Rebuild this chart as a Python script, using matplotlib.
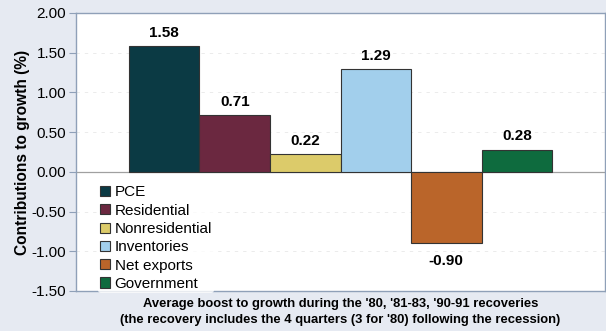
import matplotlib.pyplot as plt
import numpy as np

plt.rcParams['font.family'] = ['Liberation Sans', 'DejaVu Sans']

# data
categories = ['PCE', 'Residential', 'Nonresidential', 'Inventories', 'Net exports', 'Government']
values = [1.58, 0.71, 0.22, 1.29, -0.90, 0.28]
colors = ['#0B3A44', '#6B2840', '#DCCB6A', '#A2CFEC', '#BA652A', '#0E6B3E']
yticks = [2.0, 1.5, 1.0, 0.5, 0.0, -0.5, -1.0, -1.5]

bg = '#E6EAF2'
edge = '#8FA0B8'

fig = plt.figure(figsize=(6.06, 3.31), dpi=100, facecolor=bg)
ax = fig.add_axes([76/606, 1 - 291/331, (605-76)/606, (291-13)/331])
ax.set_facecolor('white')

x = np.arange(len(categories))
bars = ax.bar(x, values, width=1.0, color=colors, edgecolor='#333333', linewidth=0.8,
              label=categories, zorder=3)

for xi, v in zip(x, values):
    if v >= 0:
        ax.text(xi, v + 0.08, f'{v:.2f}', ha='center', va='bottom', fontsize=11,
                fontweight='bold', zorder=4)
    else:
        ax.text(xi, v - 0.13, f'{v:.2f}', ha='center', va='top', fontsize=11,
                fontweight='bold', zorder=4)

ax.set_xlim(-1.25, 6.25)
ax.set_ylim(-1.5, 2.0)
ax.set_yticks(yticks)
ax.set_yticklabels([f'{t:.2f}' for t in yticks], fontsize=11)
ax.set_xticks([])

for t in yticks:
    if t not in (0.0, 2.0, -1.5):
        ax.axhline(t, color='#E8E8E8', linewidth=0.6, linestyle=(0, (4, 6)), zorder=1)
ax.axhline(0, color='#A0A0A0', linewidth=0.9, zorder=2)

for s in ax.spines.values():
    s.set_color(edge)
    s.set_linewidth(1.0)
ax.tick_params(axis='y', direction='out', length=5, color=edge, pad=2)

ax.set_ylabel('Contributions to growth (%)', fontsize=11.2, fontweight='bold', labelpad=1)
ax.set_xlabel("Average boost to growth during the '80, '81-83, '90-91 recoveries\n"
              "(the recovery includes the 4 quarters (3 for '80) following the recession)",
              fontsize=9.4, fontweight='bold', labelpad=5, linespacing=1.4)

leg = ax.legend(loc='lower left', bbox_to_anchor=(0.042, -0.006), frameon=True,
                fontsize=11, handlelength=0.65, handleheight=0.65, handletextpad=0.3,
                labelspacing=0.28, borderpad=0.12, borderaxespad=0)
leg.get_frame().set_edgecolor('none')
leg.get_frame().set_facecolor('white')
leg.set_zorder(5)

fig.savefig('out.png', dpi=100, facecolor=bg)
